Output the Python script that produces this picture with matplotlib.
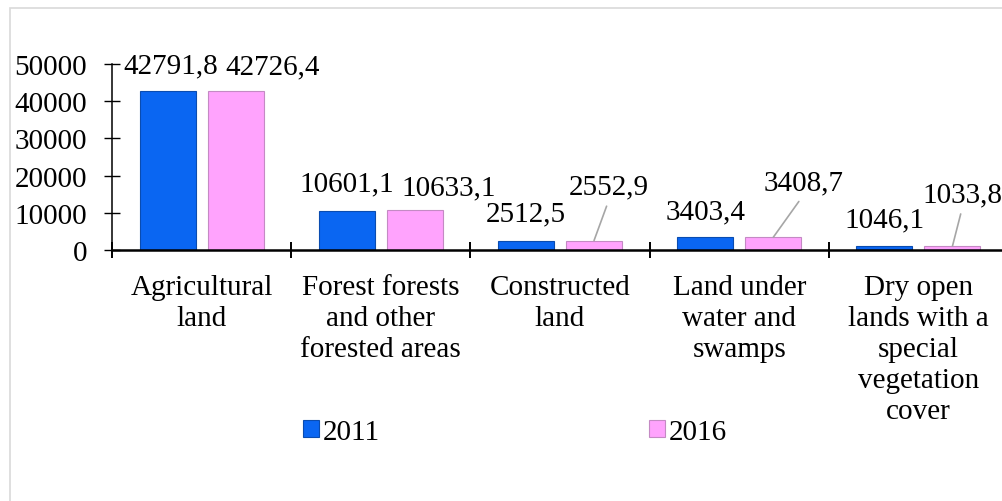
import matplotlib.pyplot as plt
import numpy as np
from matplotlib.patches import Rectangle

plt.rcParams["font.family"] = ["Liberation Serif", "DejaVu Serif"]

categories = [
    "Agricultural\nland",
    "Forest forests\nand other\nforested areas",
    "Constructed\nland",
    "Land under\nwater and\nswamps",
    "Dry open\nlands with a\nspecial\nvegetation\ncover",
]
years = ["2011", "2016"]
values_2011 = [42791.8, 10601.1, 2512.5, 3403.4, 1046.1]
values_2016 = [42726.4, 10633.1, 2552.9, 3408.7, 1033.8]
yticks = [0, 10000, 20000, 30000, 40000, 50000]

# label offsets in pixels from top of bar (dx, dy), leader line or not
off_2011 = [(3, 25), (0, 27), (0, 27), (0, 26), (0, 27)]
off_2016 = [(37, 25), (34, 23), (15, 54), (30, 55), (10, 52)]
leader_2016 = [False, False, True, True, True]

fs = 21
fig = plt.figure(figsize=(10.03, 5.02), dpi=100)
ax = fig.add_axes([112 / 1003, 1 - 251 / 502, (1008 - 112) / 1003, (251 - 65) / 502])

x = np.arange(len(categories))
w = 0.313
shift = 0.19
blue = "#0a66f2"
pink = "#ffa3fd"
ax.bar(x - shift, values_2011, w, color=blue, edgecolor="#0a4cb0", linewidth=0.8, label=years[0])
ax.bar(x + shift, values_2016, w, color=pink, edgecolor="#c48ac4", linewidth=0.8, label=years[1])


def fmt(v):
    return f"{v:.1f}".replace(".", ",")


for i in range(len(categories)):
    ax.annotate(fmt(values_2011[i]), (x[i] - shift, values_2011[i]),
                xytext=off_2011[i], textcoords="offset pixels",
                ha="center", va="center", fontsize=fs)
    props = None
    if leader_2016[i]:
        props = dict(arrowstyle="-", color="#a6a6a6", lw=1.2,
                     relpos=(0.5, 0.0), shrinkA=3, shrinkB=0)
    ax.annotate(fmt(values_2016[i]), (x[i] + shift, values_2016[i]),
                xytext=off_2016[i], textcoords="offset pixels",
                ha="center", va="center", fontsize=fs, arrowprops=props)

ax.set_xlim(-0.5, len(categories) - 0.5)
ax.set_ylim(0, 50000)
ax.set_yticks(yticks)
ax.set_yticklabels([str(t) for t in yticks], fontsize=fs)
ax.set_xticks(np.arange(len(categories) + 1) - 0.5)
ax.set_xticklabels([])
ax.set_xticks(x, minor=True)
ax.set_xticklabels(categories, minor=True, fontsize=fs, linespacing=1.26)
ax.tick_params(axis="x", which="minor", length=0, pad=17)
ax.tick_params(axis="x", which="major", direction="inout", length=12, width=1.4)
ax.tick_params(axis="y", direction="inout", length=12, width=1.0, pad=12)
for s in ("top", "right"):
    ax.spines[s].set_visible(False)
ax.spines["left"].set_linewidth(1.1)
ax.spines["bottom"].set_linewidth(1.8)
ax.patch.set_alpha(0)

leg = fig.legend(loc="center", bbox_to_anchor=(515 / 1003, 1 - 433 / 502), ncol=2,
                 frameon=False, fontsize=fs, handlelength=0.55, handleheight=0.55,
                 handletextpad=0.15, columnspacing=9.2)

# chart area border
fig.patches.append(Rectangle((10 / 1003, -0.1), 1.2, 1 - 9 / 502 + 0.1, transform=fig.transFigure,
                             fill=False, edgecolor="#d9d9d9", lw=1.2, zorder=0))

fig.savefig("out.png", dpi=100)
